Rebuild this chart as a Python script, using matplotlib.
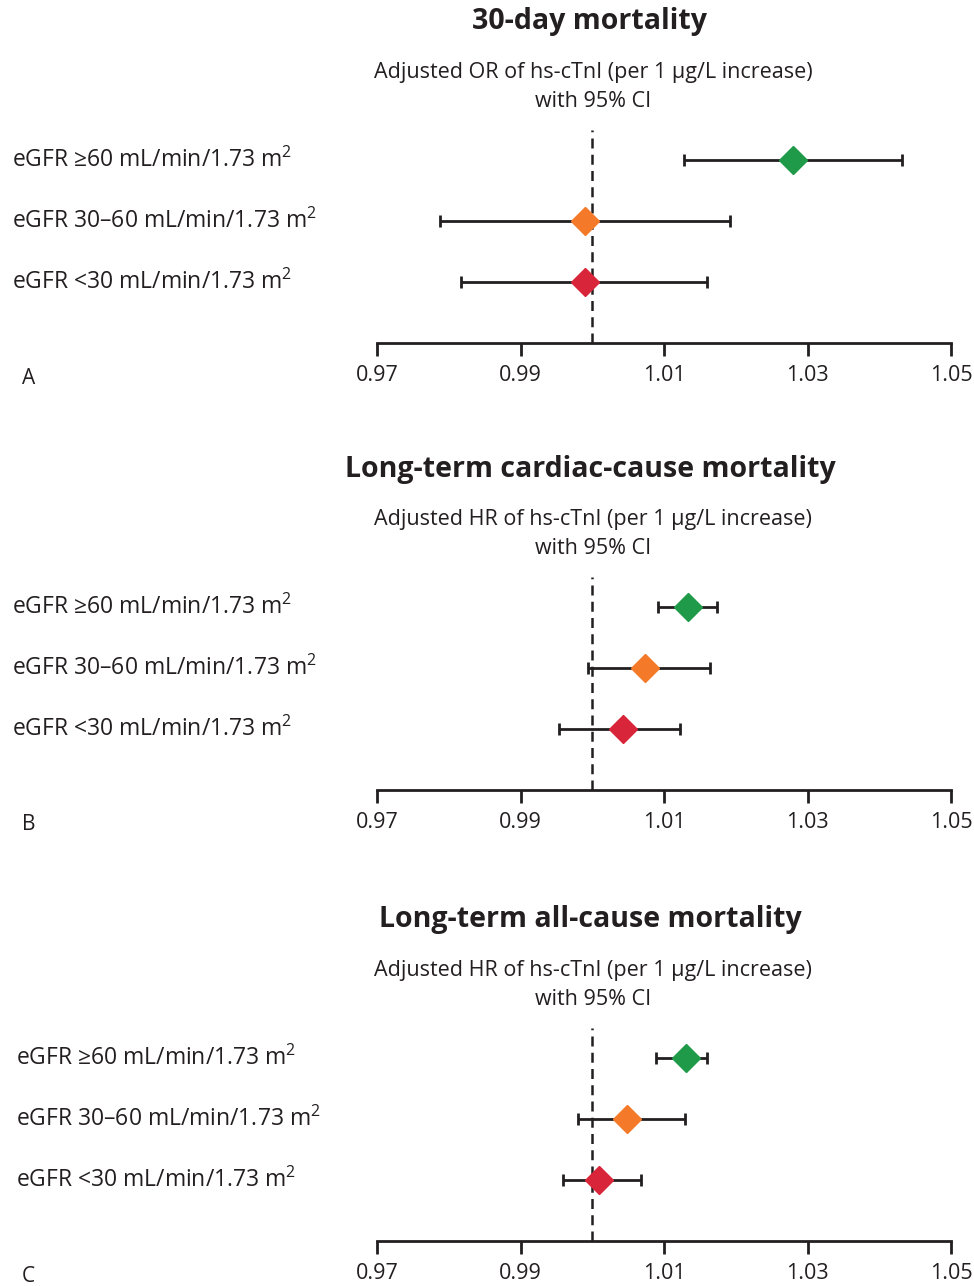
import matplotlib
matplotlib.use("Agg")
from matplotlib import pyplot as plt
from matplotlib import transforms

plt.rcParams['font.family'] = ['Open Sans', 'DejaVu Sans']
plt.rcParams['mathtext.fontset'] = 'custom'
plt.rcParams['mathtext.rm'] = 'Open Sans'
plt.rcParams['mathtext.it'] = 'Open Sans'
plt.rcParams['mathtext.bf'] = 'Open Sans:bold'

TXT = '#231f20'

groups = ["eGFR \u226560 mL/min/1.73 m$^{2}$",
          "eGFR 30\u201360 mL/min/1.73 m$^{2}$",
          "eGFR <30 mL/min/1.73 m$^{2}$"]
colors = ['#1e9a48', '#f47a2a', '#d9253a']

titles = ["30-day mortality",
          "Long-term cardiac-cause mortality",
          "Long-term all-cause mortality"]
subtitles = ["Adjusted OR of hs-cTnI (per 1 \u00b5g/L increase)\nwith 95% CI",
             "Adjusted HR of hs-cTnI (per 1 \u00b5g/L increase)\nwith 95% CI",
             "Adjusted HR of hs-cTnI (per 1 \u00b5g/L increase)\nwith 95% CI"]
letters = ["A", "B", "C"]

est_a = [1.0280, 0.9990, 0.9990]
lo_a = [1.0128, 0.9788, 0.9817]
hi_a = [1.0432, 1.0192, 1.0160]

est_b = [1.0134, 1.0073, 1.0043]
lo_b = [1.0092, 0.9994, 0.9953]
hi_b = [1.0174, 1.0164, 1.0122]

est_c = [1.0131, 1.0048, 1.0009]
lo_c = [1.0089, 0.9980, 0.9959]
hi_c = [1.0160, 1.0129, 1.0068]

ticks = [0.97, 0.99, 1.01, 1.03, 1.05]
tick_labels = ["0.97", "0.99", "1.01", "1.03", "1.05"]

W, H = 974, 1286
fig = plt.figure(figsize=(W / 100.0, H / 100.0), dpi=100)
fig.patch.set_facecolor('white')

axis_y = [343, 790, 1241]
label_x = [12, 12, 16]
rows = [3, 2, 1]

panels = [(est_a, lo_a, hi_a), (est_b, lo_b, hi_b), (est_c, lo_c, hi_c)]

for i in range(3):
    est, lo, hi = panels[i]
    bottom = axis_y[i]
    height = 213.5
    ax = fig.add_axes([377.0 / W, 1 - bottom / H, 574.0 / W, height / H])
    ax.set_xlim(0.97, 1.05)
    ax.set_ylim(0, 3.5)
    ax.patch.set_alpha(0)
    for s in ['top', 'right', 'left']:
        ax.spines[s].set_visible(False)
    ax.spines['bottom'].set_linewidth(2)
    ax.spines['bottom'].set_color(TXT)
    ax.set_yticks([])
    ax.set_xticks(ticks)
    ax.set_xticklabels(tick_labels)
    ax.tick_params(axis='x', direction='out', length=9, width=2, color=TXT,
                   labelsize=15.5, labelcolor=TXT, pad=7)

    ax.axvline(1.0, color=TXT, linestyle=(0, (4, 2.5)), linewidth=1.8, zorder=1)

    for j in range(3):
        ax.errorbar(est[j], rows[j], xerr=[[est[j] - lo[j]], [hi[j] - est[j]]],
                    fmt='none', ecolor=TXT, elinewidth=2, capsize=4.5,
                    capthick=2, zorder=2)
        ax.plot(est[j], rows[j], marker='D', markersize=14, color=colors[j],
                markeredgecolor=colors[j], linestyle='none', zorder=3)

    trans = transforms.blended_transform_factory(fig.transFigure, ax.transData)
    for j in range(3):
        ax.text(label_x[i] / W, rows[j], groups[j], transform=trans,
                ha='left', va='center', fontsize=16.5, color=TXT)

    top = bottom - 343
    fig.text(590.0 / W, 1 - (top + 22) / H, titles[i], ha='center', va='center',
             fontsize=20.5, fontweight='bold', color=TXT)
    fig.text(593.0 / W, 1 - (top + 87) / H, subtitles[i], ha='center',
             va='center', fontsize=15.5, color=TXT, linespacing=1.45)
    fig.text(22.0 / W, 1 - (bottom + 35) / H, letters[i], ha='left',
             va='center', fontsize=15, color=TXT)

fig.savefig("out.png", dpi=100, facecolor='white')
